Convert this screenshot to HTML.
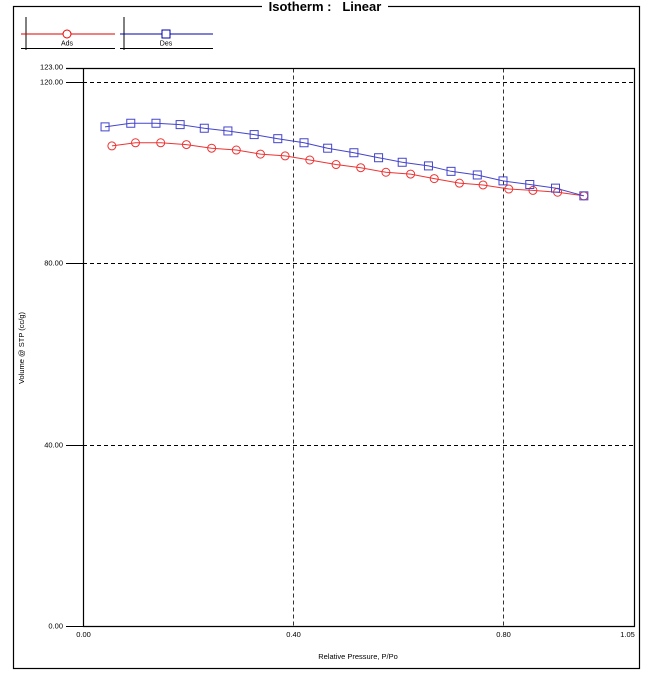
<!DOCTYPE html>
<html><head><meta charset="utf-8"><style>
body{margin:0;background:#fff}
svg{display:block;font-family:"Liberation Sans",Arial,sans-serif}
</style></head><body>
<svg id="chart" width="656" height="682" viewBox="0 0 656 682">
<rect x="13.5" y="6.5" width="626" height="662" fill="none" stroke="#000" stroke-width="1.2"/>
<rect x="262" y="0" width="126" height="13" fill="#fff"/>
<text x="325" y="11" text-anchor="middle" font-size="13" font-weight="bold" style="white-space:pre">Isotherm :   Linear</text>
<g>
 <g>
  <line x1="26" y1="17" x2="26" y2="50" stroke="#000"/>
  <line x1="21" y1="34" x2="115" y2="34" stroke="#d00"/>
  <line x1="21" y1="48.5" x2="115" y2="48.5" stroke="#000"/>
  <circle cx="67" cy="34" r="4" fill="#fff" stroke="#e00"/>
  <text x="67" y="45.5" font-size="7" text-anchor="middle">Ads</text>
 </g>
 <g>
  <line x1="124" y1="17" x2="124" y2="50" stroke="#000"/>
  <line x1="120" y1="34" x2="213" y2="34" stroke="#00a"/>
  <line x1="120" y1="48.5" x2="213" y2="48.5" stroke="#000"/>
  <rect x="162" y="30" width="8" height="8" fill="#fff" stroke="#00a"/>
  <text x="166" y="45.5" font-size="7" text-anchor="middle">Des</text>
 </g>
</g>
<g id="grid"></g>
<g id="axes"></g>
<g id="series"></g>
<text x="24" y="348" font-size="7.5" text-anchor="middle" transform="rotate(-90 24 348)">Volume @ STP (cc/g)</text>
<text x="358" y="659" font-size="7.5" text-anchor="middle">Relative Pressure, P/Po</text>
</svg>
<script>
const xTicks=[0,0.40,0.80,1.05];
const xTickLabels=["0.00","0.40","0.80","1.05"];
const yTicks=[0,40,80,120,123];
const yTickLabels=["0.00","40.00","80.00","120.00","123.00"];
const adsP=[0.055,0.100,0.148,0.197,0.245,0.292,0.338,0.385,0.432,0.482,0.529,0.577,0.624,0.669,0.717,0.762,0.811,0.857,0.904,0.954];
const adsV=[105.8,106.5,106.5,106.1,105.3,104.9,104.0,103.6,102.7,101.7,101.0,100.0,99.6,98.6,97.6,97.2,96.3,96.0,95.6,94.8];
const desP=[0.954,0.900,0.851,0.800,0.751,0.701,0.658,0.608,0.563,0.516,0.466,0.421,0.371,0.326,0.276,0.231,0.185,0.139,0.091,0.042];
const desV=[94.8,96.5,97.3,98.1,99.4,100.2,101.4,102.2,103.2,104.3,105.3,106.5,107.4,108.3,109.1,109.7,110.5,110.8,110.8,110.0];
const X0=83,XS=525,Y0=626,YS=4.5375;
const sx=p=>X0+p*XS, sy=v=>Y0-v*YS;
const NS="http://www.w3.org/2000/svg";
function mk(tag,attrs,parent){const e=document.createElementNS(NS,tag);for(const k in attrs)e.setAttribute(k,attrs[k]);parent.appendChild(e);return e;}
const grid=document.getElementById('grid'),axes=document.getElementById('axes'),ser=document.getElementById('series');
const plotTop=Math.round(sy(123))+0.5,plotRight=634.5;
yTicks.forEach((v,i)=>{
 const y=Math.round(sy(v))+0.5;
 if(v>0&&v<123){const g=mk('line',{x1:X0,y1:y,x2:plotRight,y2:y,stroke:'#000','stroke-dasharray':'4,3'},grid);
 
 }
 const t=mk('line',{x1:66,y1:y,x2:X0,y2:y,stroke:'#000'},axes);
 
 
 const l=mk('text',{x:63,y:y+(v===123?1:2),'font-size':7.5,'text-anchor':'end'},axes);l.textContent=yTickLabels[i];
 
 
});
xTicks.forEach((p,i)=>{
 const x=Math.round(sx(p))+0.5;
 if(p>0&&p<1.05){const g=mk('line',{x1:x,y1:plotTop,x2:x,y2:Y0,stroke:'#333','stroke-dasharray':'4,3'},grid);
 
 }
 const l=mk('text',{x:(p===1.05?x-7:x),y:Y0+11,'font-size':7.5,'text-anchor':'middle'},axes);l.textContent=xTickLabels[i];
 
 
});
const fr=mk('path',{d:`M${X0+0.5} ${plotTop} V${Y0+0.5} H${plotRight} V${plotTop} H66`,fill:'none',stroke:'#000','stroke-width':1.2},axes);


mk('line',{x1:66,y1:Y0+0.5,x2:X0,y2:Y0+0.5,stroke:'#000'},axes);
function drawSeries(P,V,color,shape,name){
 const g=mk('g',{},ser);
 
 
 const pts=P.map((p,i)=>sx(p).toFixed(1)+','+sy(V[i]).toFixed(1)).join(' ');
 mk('polyline',{points:pts,fill:'none',stroke:color,'stroke-width':1},g);
 P.forEach((p,i)=>{
  const x=sx(p),y=sy(V[i]);let m;
  if(shape==='circle')m=mk('circle',{cx:x,cy:y,r:4,fill:'none',stroke:color},g);
  else m=mk('rect',{x:x-4,y:y-4,width:8,height:8,fill:'none',stroke:color},g);
  
  
 });
}
drawSeries(adsP,adsV,'#e33','circle','ads-series');
drawSeries(desP,desV,'#44c','square','des-series');
</script>
</body></html>
